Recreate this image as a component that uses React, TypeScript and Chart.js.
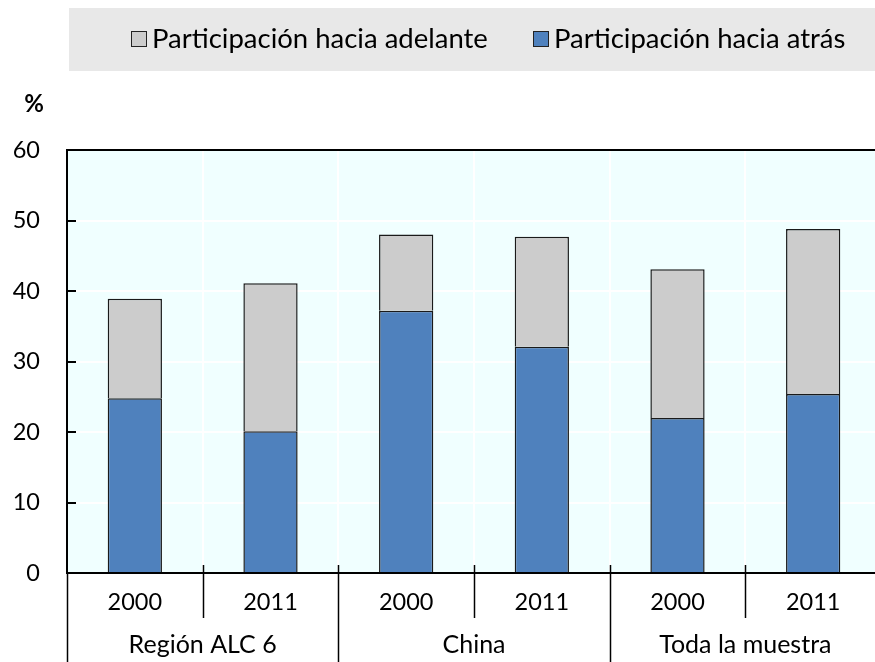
import React, { useEffect, useRef } from "react";
import { Chart, registerables } from "chart.js";

Chart.register(...registerables);

const years = ["2000", "2011", "2000", "2011", "2000", "2011"];
const groups = ["Región ALC 6", "China", "Toda la muestra"];
const backward = [24.8, 20.1, 37.2, 32.1, 22.0, 25.4];
const forward = [14.1, 21.0, 10.8, 15.6, 21.1, 23.4];
const seriesNames = ["Participación hacia adelante", "Participación hacia atrás"];
const yTicks = [0, 10, 20, 30, 40, 50, 60];

const FONT = "Lato, 'Open Sans', sans-serif";
const BLUE = "#4F81BD";
const GRAY = "#CCCCCC";

const decorPlugin = {
  id: "decor",
  beforeDraw(chart: any) {
    const { ctx, chartArea } = chart;
    ctx.save();
    ctx.fillStyle = "#E8E8E8";
    ctx.fillRect(69, 8, chart.width - 69, 63);
    ctx.fillStyle = "#F0FFFF";
    ctx.fillRect(chartArea.left, chartArea.top, chartArea.right - chartArea.left, chartArea.bottom - chartArea.top);
    ctx.restore();
  },
  afterDraw(chart: any) {
    const { ctx, chartArea } = chart;
    const x = chart.scales.x;
    const y = chart.scales.y;
    ctx.save();
    // legend
    ctx.font = `27.5px ${FONT}`;
    ctx.textBaseline = "middle";
    ctx.textAlign = "left";
    const items = [
      { label: seriesNames[0], color: GRAY, x: 131 },
      { label: seriesNames[1], color: BLUE, x: 533 },
    ];
    items.forEach((it) => {
      ctx.fillStyle = it.color;
      ctx.fillRect(it.x, 31, 16, 16);
      ctx.strokeStyle = "#222";
      ctx.lineWidth = 1;
      ctx.strokeRect(it.x + 0.5, 31.5, 15, 15);
      ctx.fillStyle = "#000";
      ctx.fillText(it.label, it.x + 21, 39);
    });
    // % label
    ctx.font = `bold 24px ${FONT}`;
    ctx.textAlign = "center";
    ctx.fillText("%", 34, 104);
    // inward y ticks
    ctx.strokeStyle = "#000";
    ctx.lineWidth = 2;
    yTicks.forEach((v) => {
      const py = Math.round(y.getPixelForValue(v));
      ctx.beginPath();
      ctx.moveTo(chartArea.left, py);
      ctx.lineTo(chartArea.left + 9, py);
      ctx.stroke();
    });
    // x labels
    ctx.fillStyle = "#000";
    ctx.font = `23.5px ${FONT}`;
    ctx.textAlign = "center";
    ctx.textBaseline = "middle";
    years.forEach((yr, i) => {
      ctx.fillText(yr, x.getPixelForValue(i), 602);
    });
    ctx.font = `25px ${FONT}`;
    groups.forEach((g, gi) => {
      const cx = (x.getPixelForValue(gi * 2) + x.getPixelForValue(gi * 2 + 1)) / 2;
      ctx.fillText(g, cx, 645);
    });
    // separators
    const step = x.getPixelForValue(1) - x.getPixelForValue(0);
    ctx.lineWidth = 1.5;
    for (let i = 0; i <= years.length; i++) {
      const px = Math.round(x.getPixelForValue(0) - step / 2 + i * step) + 0.5;
      const isGroup = i % 2 === 0;
      ctx.beginPath();
      ctx.moveTo(px, isGroup && i === 0 ? chartArea.bottom : chartArea.bottom - 8);
      ctx.lineTo(px, isGroup ? chart.height : 618);
      ctx.stroke();
    }
    ctx.restore();
  },
};

export default function App() {
  const ref = useRef<HTMLCanvasElement>(null);
  useEffect(() => {
    if (!ref.current) return;
    const chart = new Chart(ref.current, {
      type: "bar",
      data: {
        labels: years,
        datasets: [
          {
            label: seriesNames[1],
            data: backward,
            backgroundColor: BLUE,
            borderColor: "#1a1a1a",
            borderWidth: 1.5,
            barPercentage: 0.4,
            categoryPercentage: 1,
          },
          {
            label: seriesNames[0],
            data: forward,
            backgroundColor: GRAY,
            borderColor: "#1a1a1a",
            borderWidth: 1.5,
            barPercentage: 0.4,
            categoryPercentage: 1,
          },
        ],
      },
      options: {
        responsive: false,
        animation: false,
        devicePixelRatio: 1,
        layout: { padding: { left: 0, top: 150, right: 9, bottom: 0 } },
        plugins: { legend: { display: false }, tooltip: { enabled: false } },
        scales: {
          x: {
            stacked: true,
            ticks: { display: false },
            grid: { display: true, drawTicks: false, color: "#FFFFFF", lineWidth: 2, offset: true },
            border: { display: true, color: "#000", width: 2 },
            afterFit: (s: any) => {
              s.height = 89;
            },
          },
          y: {
            stacked: true,
            min: 0,
            max: 60,
            ticks: {
              stepSize: 10,
              padding: 27,
              color: "#000",
              font: { family: FONT, size: 23.5 },
            },
            grid: {
              drawTicks: false,
              lineWidth: 2,
              color: (c: any) => (c.tick && c.tick.value === 60 ? "#000" : "#FFFFFF"),
            },
            border: { display: true, color: "#000", width: 2 },
            afterFit: (s: any) => {
              s.width = 67;
            },
          },
        },
      },
      plugins: [decorPlugin],
    });
    return () => chart.destroy();
  }, []);
  return (
    <div style={{ position: "fixed", left: 0, top: 0, width: 875, height: 662, overflow: "hidden", background: "#fff" }}>
      <canvas ref={ref} width={890} height={662} style={{ display: "block" }} />
    </div>
  );
}
